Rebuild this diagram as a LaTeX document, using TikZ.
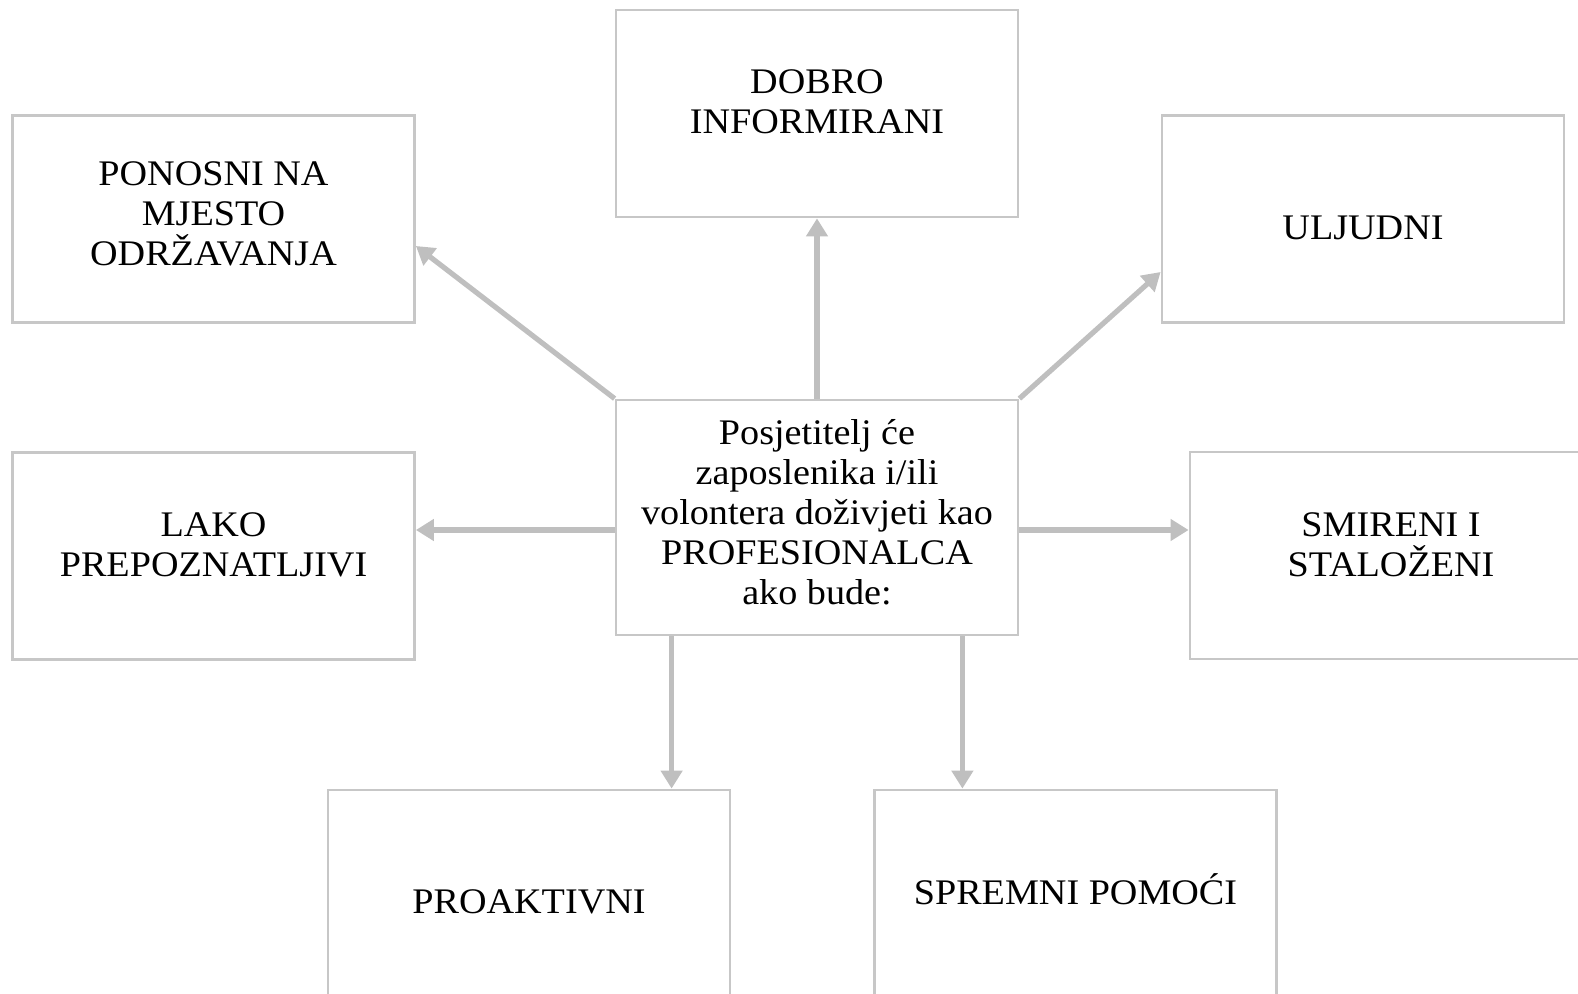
\documentclass[tikz,border=0pt]{standalone}
\usepackage{fontspec}
\setmainfont{Liberation Serif}[FakeStretch=1.06]
\usetikzlibrary{arrows.meta}

\tikzset{
  okvir/.style={draw=black!22, line width=1.4pt,
    minimum width=201pt, minimum height=103.5pt, inner sep=0pt},
  natpis/.style={align=center, inner sep=0pt,
    font=\fontsize{18}{20}\selectfont},
  strelica/.style={draw=black!25, line width=2.6pt,
    -{Triangle[length=9pt,width=10.5pt]}},
}

\begin{document}
\begin{tikzpicture}[x=0.5pt,y=-0.5pt]
  \useasboundingbox (0,0) rectangle (1578,994);
  \clip (0,0) rectangle (1578,994);
  % sredisnji okvir
  \node[okvir, minimum height=117.5pt,
    label={[natpis,yshift=2.5pt,name=tc]center:Posjetitelj će\\zaposlenika i/ili\\volontera doživjeti kao\\PROFESIONALCA\\ako bude:}]
    (c) at (817,517.5) {};
  % okviri oko njega
  \node[okvir, label={[natpis,yshift=6pt,name=ttop]center:DOBRO\\INFORMIRANI}]
    (top) at (817,113.5) {};
  \node[okvir, label={[natpis,yshift=2.5pt,name=ttl]center:PONOSNI NA\\MJESTO\\ODRŽAVANJA}]
    (tl) at (213.5,219) {};
  \node[okvir, label={[natpis,yshift=-4.5pt,name=ttr]center:ULJUDNI}]
    (tr) at (1363,219) {};
  \node[okvir, label={[natpis,yshift=5.5pt,name=tlft]center:LAKO\\PREPOZNATLJIVI}]
    (l) at (213.5,556) {};
  \node[okvir, label={[natpis,yshift=5.5pt,name=trgt]center:SMIRENI I\\STALOŽENI}]
    (r) at (1391,555.5) {};
  \node[okvir, minimum height=112pt, label={[natpis,name=tbl]center:PROAKTIVNI}]
    (bl) at (529,902) {};
  \node[okvir, minimum height=112pt, label={[natpis,yshift=6.5pt,name=tbr]center:SPREMNI POMOĆI}]
    (br) at (1075.5,902) {};
  % strelice
  \coordinate (cl) at ([yshift=-6.25pt]c.west);
  \coordinate (cr) at ([yshift=-6.25pt]c.east);
  \coordinate (cbl) at ([xshift=28.5pt]c.south west);
  \coordinate (cbr) at ([xshift=-28.5pt]c.south east);
  \draw[strelica] (c.north west) -- ([yshift=-13.5pt]tl.east);
  \draw[strelica] (c.north) -- (top.south);
  \draw[strelica] (c.north east) -- ([yshift=-26.5pt]tr.west);
  \draw[strelica] (cl) -- (cl -| l.east);
  \draw[strelica] (cr) -- (cr -| r.west);
  \draw[strelica] (cbl) -- (cbl |- bl.north);
  \draw[strelica] (cbr) -- (cbr |- br.north);
\end{tikzpicture}
\end{document}
